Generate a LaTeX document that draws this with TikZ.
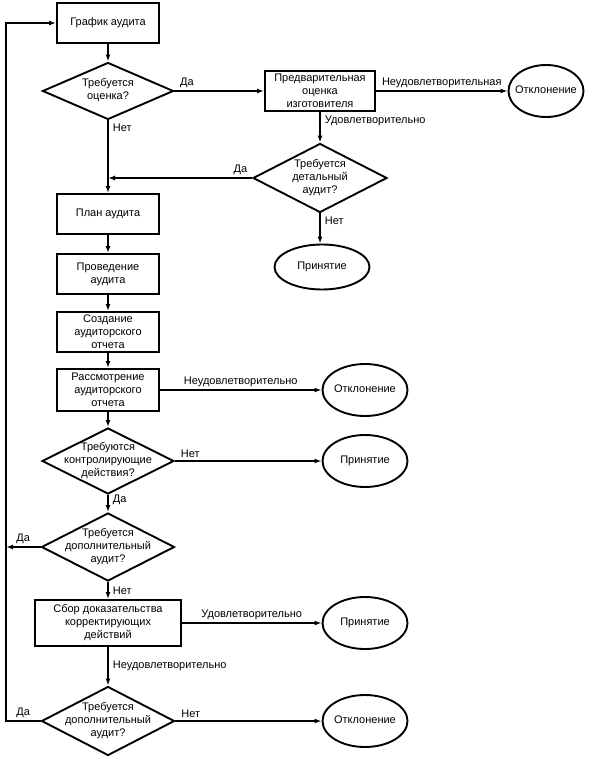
\documentclass[tikz,border=0pt]{standalone}
\usepackage{fontspec}
\setmainfont{Liberation Sans}
\usetikzlibrary{shapes.geometric,arrows.meta}
\newcommand{\dtxt}[1]{\smash{\makebox[0pt]{\raisebox{-2.5pt}{\begin{tabular}{@{}c@{}}#1\end{tabular}}}}}
\begin{document}
\begin{tikzpicture}[x=1pt,y=-1pt,line width=1.9pt,
  font=\fontsize{11}{13}\selectfont,
  box/.style={rectangle,draw,align=center,inner sep=0pt,
    minimum width=102pt,minimum height=40pt},
  ask/.style={diamond,draw,inner sep=0pt,
    minimum width=133pt,minimum height=68pt},
  stop/.style={ellipse,draw,inner sep=0pt,
    minimum width=85pt,minimum height=52pt},
  go/.style={-{Latex[length=7pt,width=5pt]}},
  lbl/.style={inner sep=2pt}]
\useasboundingbox (0,0) rectangle (597,762);
\node[box] (sched) at (108,23) {График аудита};
\node[ask,minimum width=131pt,minimum height=57pt] (q1) at (108,91)
    {\dtxt{Требуется\\оценка?}};
\node[box,minimum width=110pt] (pre) at (320,91)
    {Предварительная\\оценка\\изготовителя};
\node[stop,minimum width=75pt] (rej1) at (546,91) {\dtxt{Отклонение}};
\node[ask,minimum width=134pt,minimum height=69pt] (q2) at (320,178)
    {\dtxt{Требуется\\детальный\\аудит?}};
\node[stop,minimum width=95pt,minimum height=45pt] (acc1) at (322,267)
    {\dtxt{Принятие}};
\coordinate (join) at (108,178);
\node[box] (plan) at (108,214) {План аудита};
\node[box] (do) at (108,274) {Проведение\\аудита};
\node[box] (rep) at (108,332) {Создание\\аудиторского\\отчета};
\node[box,minimum height=42pt] (rev) at (108,390)
    {Рассмотрение\\аудиторского\\отчета};
\node[stop] (rej2) at (365,390) {\dtxt{Отклонение}};
\node[ask,minimum width=132pt,minimum height=66pt] (q3) at (108,461)
    {\dtxt{Требуются\\контролирующие\\действия?}};
\node[stop] (acc2) at (365,461) {\dtxt{Принятие}};
\node[ask] (q4) at (108,547) {\dtxt{Требуется\\дополнительный\\аудит?}};
\coordinate (mid) at (6,547);
\node[box,minimum width=146pt,minimum height=46pt] (ev) at (108,623)
    {Сбор доказательства\\корректирующих\\действий};
\node[stop] (acc3) at (365,623) {\dtxt{Принятие}};
\node[ask,minimum height=69pt] (q5) at (108,721)
    {\dtxt{Требуется\\дополнительный\\аудит?}};
\node[stop] (rej3) at (365,721) {\dtxt{Отклонение}};
\coordinate (back) at (6,721);
\foreach \a/\b in {sched/q1,plan/do,do/rep,rep/rev,rev/q3}
    \draw[go] (\a) -- (\b);
\draw[go] (q1) -- node[pos=0.03,above right,lbl]{Да} (pre);
\draw[go] (q1) -- node[pos=0.1,right=2pt,lbl]{Нет} (plan);
\draw[go] (pre) -- node[above,lbl]{Неудовлетворительная} (rej1);
\draw[go] (pre) -- node[pos=0.28,right=2pt,lbl]{Удовлетворительно} (q2);
\draw[go] (q2) -- node[pos=0.08,above,lbl]{Да} (join);
\draw[go] (q2) -- node[pos=0.23,right=2pt,lbl]{Нет} (acc1.north -| q2);
\draw[go] (rev) -- node[above,lbl]{Неудовлетворительно} (rej2);
\draw[go] (q3) -- node[pos=0.02,above right,lbl]{Нет} (acc2);
\draw[go] (q3) -- node[pos=0.27,right=2pt,lbl]{Да} (q4);
\draw[go] (q4) -- node[above,lbl]{Да} (mid);
\draw[go] (q4) -- node[right=2pt,lbl]{Нет} (ev);
\draw[go] (ev) -- node[above,lbl]{Удовлетворительно} (acc3);
\draw[go] (ev) -- node[right=2pt,lbl]{Неудовлетворительно} (q5);
\draw[go] (q5) -- node[pos=0.02,above right,lbl]{Нет} (rej3);
\draw[go] (q5) -- node[above,lbl]{Да} (back) |- (sched);
\end{tikzpicture}
\end{document}
